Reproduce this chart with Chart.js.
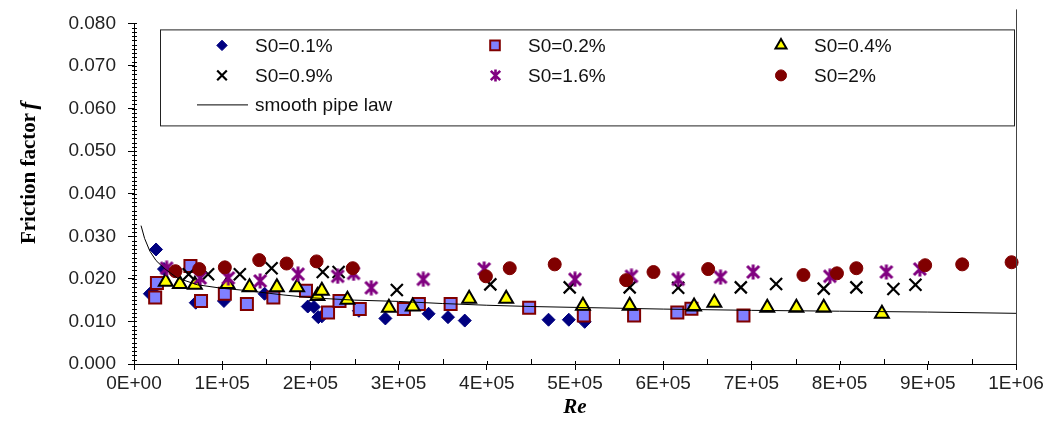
<!DOCTYPE html>
<html>
<head>
<meta charset="utf-8">
<script src="https://cdn.jsdelivr.net/npm/chart.js@4/dist/chart.umd.min.js"></script>
<style>
  html, body { margin: 0; padding: 0; background: #fff; }
  #wrap { width: 1048px; height: 427px; }
</style>
</head>
<body>
<div id="wrap"><canvas id="frictionChart" width="1048" height="427"></canvas></div>
<script>
const s01 = [[18000,0.0165],[22000,0.0168],[25000,0.0269],[34000,0.0223],[70000,0.0144],[102000,0.0148],
  [148000,0.0165],[197000,0.0135],[204000,0.0134],[209000,0.0110],[213000,0.0112],[255000,0.0125],
  [285000,0.0107],[334000,0.0118],[356000,0.0110],[375000,0.0102],[470000,0.0104],[493000,0.0104],[511000,0.0099]];
const s02 = [[24000,0.0156],[26000,0.0190],[64000,0.0230],[76000,0.0148],[103000,0.0165],[128000,0.0141],
  [158000,0.0156],[195000,0.0172],[220000,0.0121],[233000,0.0148],[256000,0.0129],[306000,0.0129],
  [323000,0.0141],[359000,0.0141],[448000,0.0132],[510000,0.0114],[567000,0.0114],[616000,0.0121],
  [632000,0.0130],[691000,0.0114]];
const s04 = [[36000,0.0193],[52000,0.0188],[69000,0.0186],[106000,0.0188],[131000,0.0180],[162000,0.0180],
  [185000,0.0180],[208000,0.0160],[213000,0.0172],[242000,0.0151],[289000,0.0132],[316000,0.0135],
  [380000,0.0153],[422000,0.0153],[509000,0.0137],[562000,0.0137],[635000,0.0135],[658000,0.0144],
  [718000,0.0132],[751000,0.0132],[782000,0.0132],[848000,0.0118]];
const s09 = [[62000,0.0211],[84000,0.0211],[120000,0.0211],[156000,0.0225],[214000,0.0216],[232000,0.0216],
  [298000,0.0174],[404000,0.0187],[494000,0.0180],[562000,0.0180],[617000,0.0179],[688000,0.0180],
  [728000,0.0188],[782000,0.0177],[819000,0.0180],[861000,0.0176],[886000,0.0186]];
const s16 = [[37000,0.0225],[75000,0.0202],[107000,0.0202],[143000,0.0195],[186000,0.0211],[231000,0.0206],
  [249000,0.0213],[269000,0.0179],[328000,0.0199],[397000,0.0223],[500000,0.0199],[564000,0.0206],
  [617000,0.0199],[665000,0.0204],[702000,0.0216],[789000,0.0206],[853000,0.0216],[891000,0.0223]];
const s20 = [[47000,0.0218],[74000,0.0223],[103000,0.0227],[142000,0.0244],[173000,0.0236],[207000,0.0241],
  [248000,0.0225],[399000,0.0206],[426000,0.0225],[477000,0.0234],[558000,0.0197],[589000,0.0216],
  [651000,0.0223],[759000,0.0209],[797000,0.0213],[819000,0.0225],[897000,0.0232],[939000,0.0234],[995000,0.0239]];
// smooth pipe law curve as traced
const smoothLaw = [[8000,0.0325],[12000,0.0295],[18000,0.0265],[25000,0.0243],[34000,0.0225],[49000,0.0202],
  [72000,0.0186],[99000,0.0178],[125000,0.0173],[170000,0.0162],[205000,0.0155],[250000,0.0150],
  [300000,0.0147],[350000,0.0142],[400000,0.0138],[450000,0.0135],[500000,0.0133],[600000,0.0129],
  [700000,0.0126],[800000,0.0124],[900000,0.0122],[1000000,0.0119]];

const xTickLabels = ['0E+00','1E+05','2E+05','3E+05','4E+05','5E+05','6E+05','7E+05','8E+05','9E+05','1E+06'];
const yTickLabels = ['0.000','0.010','0.020','0.030','0.040','0.050','0.060','0.070','0.080'];

const toXY = arr => arr.map(p => ({ x: p[0], y: p[1] }));

// excel-style asterisk: an X with a vertical bar
function asterisk(size, color, lw) {
    const c = document.createElement('canvas');
    c.width = size; c.height = size;
    const g = c.getContext('2d');
    const m = lw / 2 + 0.5, e = size - m, h = size / 2;
    g.strokeStyle = color;
    g.lineWidth = lw;
    g.lineCap = 'butt';
    g.beginPath();
    g.moveTo(m, m); g.lineTo(e, e);
    g.moveTo(e, m); g.lineTo(m, e);
    g.moveTo(h, 0.5); g.lineTo(h, size - 0.5);
    g.stroke();
    return c;
}

function markerSet(label, pts, style, radius, fill, border, bw, order) {
    return {
        label: label,
        data: toXY(pts),
        pointStyle: style,
        pointRadius: radius,
        pointHoverRadius: radius,
        pointBackgroundColor: fill,
        pointBorderColor: border,
        pointBorderWidth: bw,
        showLine: false,
        clip: false,
        order: order
    };
}

const datasets = [
    markerSet('S0=0.1%', s01, 'rectRot', 6.5, '#000080', '#000080', 1, 7),
    markerSet('S0=0.2%', s02, 'rect', 8.5, '#8080ff', '#800000', 2, 6),
    markerSet('S0=0.4%', s04, 'triangle', 8, '#ffff00', '#000000', 2, 5),
    markerSet('S0=0.9%', s09, 'crossRot', 8.5, '#000000', '#000000', 2.2, 4),
    markerSet('S0=1.6%', s16, asterisk(16, '#800080', 3), 8, '#800080', '#800080', 2.5, 3),
    markerSet('S0=2%', s20, 'circle', 6.5, '#800000', '#800000', 1, 2),
    {
        label: 'smooth pipe law',
        type: 'line',
        data: toXY(smoothLaw),
        borderColor: '#000',
        borderWidth: 1,
        pointRadius: 0,
        fill: false,
        tension: 0,
        order: 1
    }
];
const legendStar = asterisk(13, '#800080', 2.6);

// legend box inside the plot, three columns
const legendBox = {
    id: 'legendBox',
    afterDraw(chart) {
        const ctx = chart.ctx;
        const a = chart.chartArea;
        const bx = a.left + 26, by = a.top + 6, bw = a.right - 2 - bx, bh = 96;
        ctx.save();
        ctx.fillStyle = '#fff';
        ctx.fillRect(bx, by, bw, bh);
        ctx.strokeStyle = '#222';
        ctx.lineWidth = 1;
        ctx.strokeRect(bx + 0.5, by + 0.5, bw, bh);

        const cols = [a.left + 88, a.left + 361, a.left + 647];
        const rows = [a.top + 22, a.top + 52, a.top + 81];
        ctx.font = '19px "Liberation Sans", Arial, sans-serif';
        ctx.textBaseline = 'middle';
        chart.data.datasets.forEach((ds, i) => {
            const row = Math.floor(i / 3), col = i % 3;
            const mx = cols[col], my = rows[row];
            if (ds.type === 'line') {
                ctx.strokeStyle = ds.borderColor;
                ctx.lineWidth = 1;
                ctx.beginPath();
                ctx.moveTo(a.left + 63, my + 0.5);
                ctx.lineTo(a.left + 114, my + 0.5);
                ctx.stroke();
            } else if (typeof ds.pointStyle !== 'string') {
                ctx.drawImage(legendStar, Math.round(mx - legendStar.width / 2), Math.round(my - legendStar.height / 2));
            } else {
                ctx.fillStyle = ds.pointBackgroundColor;
                ctx.strokeStyle = ds.pointBorderColor;
                ctx.lineWidth = ds.pointBorderWidth;
                const r = ds.pointStyle === 'circle' ? 5.5 : ds.pointRadius * 0.8;
                Chart.helpers.drawPoint(ctx, { pointStyle: ds.pointStyle, radius: r, rotation: 0, borderWidth: ds.pointBorderWidth }, mx, my);
            }
            ctx.fillStyle = '#111';
            ctx.fillText(ds.label, mx + 33, my + 1);
        });
        ctx.restore();
    }
};

// minor ticks, right frame line and axis titles
const frameExtras = {
    id: 'frameExtras',
    afterDraw(chart) {
        const ctx = chart.ctx;
        const a = chart.chartArea;
        const xs = chart.scales.x, ys = chart.scales.y;
        ctx.save();
        ctx.strokeStyle = '#000';
        ctx.lineWidth = 1;
        ctx.beginPath();
        for (let v = 0; v <= 0.0801; v += 0.001) {
            const py = Math.round(ys.getPixelForValue(v)) + 0.5;
            ctx.moveTo(a.left - 2, py);
            ctx.lineTo(a.left + 3, py);
        }
        for (let v = 50000; v < 1000000; v += 100000) {
            const px = Math.round(xs.getPixelForValue(v)) + 0.5;
            ctx.moveTo(px, a.bottom);
            ctx.lineTo(px, a.bottom - 5);
        }
        for (let v = 100000; v <= 1000000; v += 100000) {
            const px = Math.round(xs.getPixelForValue(v)) + 0.5;
            ctx.moveTo(px, a.bottom);
            ctx.lineTo(px, a.bottom - 3);
        }
        ctx.stroke();

        ctx.strokeStyle = '#444';
        ctx.beginPath();
        ctx.moveTo(Math.round(a.right) + 0.5, a.top - 14);
        ctx.lineTo(Math.round(a.right) + 0.5, a.bottom);
        ctx.stroke();

        // y title: "Friction factor f"
        ctx.fillStyle = '#000';
        ctx.translate(30, 172);
        ctx.rotate(-Math.PI / 2);
        ctx.textBaseline = 'middle';
        const f1 = 'bold 21px "Liberation Serif", "Times New Roman", serif';
        const f2 = 'italic bold 23px "Liberation Serif", "Times New Roman", serif';
        ctx.font = f1;
        const w1 = ctx.measureText('Friction factor ').width;
        ctx.font = f2;
        const w2 = ctx.measureText('f').width;
        const start = -(w1 + w2) / 2;
        ctx.font = f1;
        ctx.textAlign = 'left';
        ctx.fillText('Friction factor ', start, 0);
        ctx.font = f2;
        ctx.fillText('f', start + w1 - 2, 0);
        ctx.restore();

        // x title
        ctx.save();
        ctx.fillStyle = '#000';
        ctx.font = 'italic bold 21px "Liberation Serif", "Times New Roman", serif';
        ctx.textAlign = 'center';
        ctx.textBaseline = 'middle';
        ctx.fillText('Re', (a.left + a.right) / 2, 408);
        ctx.restore();
    }
};

new Chart(document.getElementById('frictionChart'), {
    type: 'scatter',
    data: { datasets: datasets },
    options: {
        responsive: false,
        animation: false,
        layout: { padding: { top: 19, right: 32, left: 0, bottom: 0 } },
        plugins: {
            legend: { display: false },
            tooltip: { enabled: false }
        },
        scales: {
            x: {
                type: 'linear',
                min: 0,
                max: 1000000,
                afterFit: s => { s.height = 63; },
                ticks: {
                    stepSize: 100000,
                    maxRotation: 0,
                    autoSkip: false,
                    padding: 2,
                    color: '#222',
                    font: { family: '"Liberation Sans", Arial, sans-serif', size: 19 },
                    callback: (v, i) => xTickLabels[i]
                },
                grid: { drawOnChartArea: false, drawTicks: true, tickLength: 6, color: '#000' },
                border: { display: true, color: '#000', width: 1 }
            },
            y: {
                min: 0,
                max: 0.08,
                afterFit: s => { s.width = 134; },
                ticks: {
                    stepSize: 0.01,
                    padding: 12,
                    color: '#222',
                    font: { family: '"Liberation Sans", Arial, sans-serif', size: 19 },
                    callback: (v, i) => yTickLabels[i]
                },
                grid: { drawOnChartArea: false, drawTicks: true, tickLength: 6, color: '#000' },
                border: { display: true, color: '#000', width: 1 }
            }
        }
    },
    plugins: [legendBox, frameExtras]
});
</script>
</body>
</html>
